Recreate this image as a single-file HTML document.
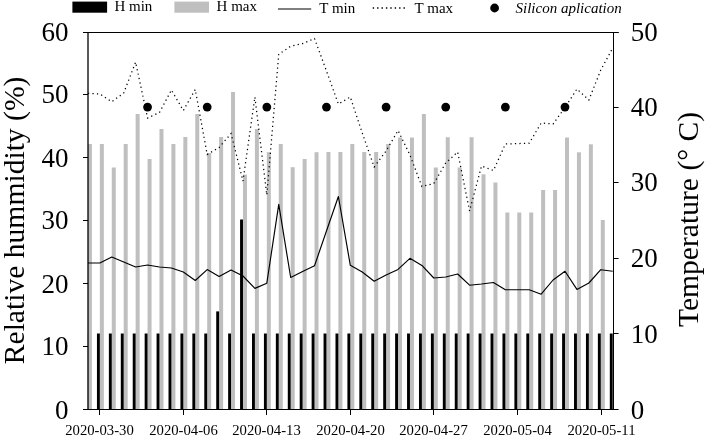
<!DOCTYPE html>
<html><head><meta charset="utf-8"><style>
html,body{margin:0;padding:0;background:#fff;}
body{width:708px;height:437px;overflow:hidden;}
svg{display:block;will-change:transform;}
text{font-family:"Liberation Serif",serif;fill:#000;}
.yl{font-size:27px;}
.xl{font-size:14.7px;}
.tt{font-size:29.6px;}
.lg{font-size:15px;}
</style></head><body>
<svg width="708" height="437" viewBox="0 0 708 437">
<clipPath id="pc"><rect x="87.92" y="32.5" width="525.58" height="377.0"/></clipPath>
<g clip-path="url(#pc)">
<rect x="87.92" y="144" width="4.0" height="265.50" fill="#bfbfbf"/>
<rect x="85.02" y="333.5" width="2.9" height="76.00" fill="#000"/>
<rect x="99.85" y="144" width="4.0" height="265.50" fill="#bfbfbf"/>
<rect x="96.95" y="333.5" width="2.9" height="76.00" fill="#000"/>
<rect x="111.77" y="167.5" width="4.0" height="242.00" fill="#bfbfbf"/>
<rect x="108.87" y="333.5" width="2.9" height="76.00" fill="#000"/>
<rect x="123.70" y="144" width="4.0" height="265.50" fill="#bfbfbf"/>
<rect x="120.80" y="333.5" width="2.9" height="76.00" fill="#000"/>
<rect x="135.63" y="114" width="4.0" height="295.50" fill="#bfbfbf"/>
<rect x="132.73" y="333.5" width="2.9" height="76.00" fill="#000"/>
<rect x="147.56" y="159" width="4.0" height="250.50" fill="#bfbfbf"/>
<rect x="144.66" y="333.5" width="2.9" height="76.00" fill="#000"/>
<rect x="159.48" y="129" width="4.0" height="280.50" fill="#bfbfbf"/>
<rect x="156.58" y="333.5" width="2.9" height="76.00" fill="#000"/>
<rect x="171.41" y="144" width="4.0" height="265.50" fill="#bfbfbf"/>
<rect x="168.51" y="333.5" width="2.9" height="76.00" fill="#000"/>
<rect x="183.34" y="137" width="4.0" height="272.50" fill="#bfbfbf"/>
<rect x="180.44" y="333.5" width="2.9" height="76.00" fill="#000"/>
<rect x="195.26" y="114" width="4.0" height="295.50" fill="#bfbfbf"/>
<rect x="192.36" y="333.5" width="2.9" height="76.00" fill="#000"/>
<rect x="207.19" y="153" width="4.0" height="256.50" fill="#bfbfbf"/>
<rect x="204.29" y="333.5" width="2.9" height="76.00" fill="#000"/>
<rect x="219.12" y="137" width="4.0" height="272.50" fill="#bfbfbf"/>
<rect x="216.22" y="311.4" width="2.9" height="98.10" fill="#000"/>
<rect x="231.04" y="92" width="4.0" height="317.50" fill="#bfbfbf"/>
<rect x="228.14" y="333.5" width="2.9" height="76.00" fill="#000"/>
<rect x="242.97" y="174.6" width="4.0" height="234.90" fill="#bfbfbf"/>
<rect x="240.07" y="219.5" width="2.9" height="190.00" fill="#000"/>
<rect x="254.90" y="129" width="4.0" height="280.50" fill="#bfbfbf"/>
<rect x="252.00" y="333.5" width="2.9" height="76.00" fill="#000"/>
<rect x="266.82" y="152.2" width="4.0" height="257.30" fill="#bfbfbf"/>
<rect x="263.93" y="333.5" width="2.9" height="76.00" fill="#000"/>
<rect x="278.75" y="144" width="4.0" height="265.50" fill="#bfbfbf"/>
<rect x="275.85" y="333.5" width="2.9" height="76.00" fill="#000"/>
<rect x="290.68" y="167.2" width="4.0" height="242.30" fill="#bfbfbf"/>
<rect x="287.78" y="333.5" width="2.9" height="76.00" fill="#000"/>
<rect x="302.61" y="159" width="4.0" height="250.50" fill="#bfbfbf"/>
<rect x="299.71" y="333.5" width="2.9" height="76.00" fill="#000"/>
<rect x="314.53" y="152.2" width="4.0" height="257.30" fill="#bfbfbf"/>
<rect x="311.63" y="333.5" width="2.9" height="76.00" fill="#000"/>
<rect x="326.46" y="152" width="4.0" height="257.50" fill="#bfbfbf"/>
<rect x="323.56" y="333.5" width="2.9" height="76.00" fill="#000"/>
<rect x="338.39" y="152" width="4.0" height="257.50" fill="#bfbfbf"/>
<rect x="335.49" y="333.5" width="2.9" height="76.00" fill="#000"/>
<rect x="350.31" y="144" width="4.0" height="265.50" fill="#bfbfbf"/>
<rect x="347.41" y="333.5" width="2.9" height="76.00" fill="#000"/>
<rect x="362.24" y="152" width="4.0" height="257.50" fill="#bfbfbf"/>
<rect x="359.34" y="333.5" width="2.9" height="76.00" fill="#000"/>
<rect x="374.17" y="152" width="4.0" height="257.50" fill="#bfbfbf"/>
<rect x="371.27" y="333.5" width="2.9" height="76.00" fill="#000"/>
<rect x="386.10" y="144" width="4.0" height="265.50" fill="#bfbfbf"/>
<rect x="383.20" y="333.5" width="2.9" height="76.00" fill="#000"/>
<rect x="398.02" y="137.5" width="4.0" height="272.00" fill="#bfbfbf"/>
<rect x="395.12" y="333.5" width="2.9" height="76.00" fill="#000"/>
<rect x="409.95" y="137.5" width="4.0" height="272.00" fill="#bfbfbf"/>
<rect x="407.05" y="333.5" width="2.9" height="76.00" fill="#000"/>
<rect x="421.88" y="114" width="4.0" height="295.50" fill="#bfbfbf"/>
<rect x="418.98" y="333.5" width="2.9" height="76.00" fill="#000"/>
<rect x="433.80" y="167.5" width="4.0" height="242.00" fill="#bfbfbf"/>
<rect x="430.90" y="333.5" width="2.9" height="76.00" fill="#000"/>
<rect x="445.73" y="137.2" width="4.0" height="272.30" fill="#bfbfbf"/>
<rect x="442.83" y="333.5" width="2.9" height="76.00" fill="#000"/>
<rect x="457.66" y="167.5" width="4.0" height="242.00" fill="#bfbfbf"/>
<rect x="454.76" y="333.5" width="2.9" height="76.00" fill="#000"/>
<rect x="469.58" y="137.2" width="4.0" height="272.30" fill="#bfbfbf"/>
<rect x="466.68" y="333.5" width="2.9" height="76.00" fill="#000"/>
<rect x="481.51" y="174.3" width="4.0" height="235.20" fill="#bfbfbf"/>
<rect x="478.61" y="333.5" width="2.9" height="76.00" fill="#000"/>
<rect x="493.44" y="182.5" width="4.0" height="227.00" fill="#bfbfbf"/>
<rect x="490.54" y="333.5" width="2.9" height="76.00" fill="#000"/>
<rect x="505.37" y="212.5" width="4.0" height="197.00" fill="#bfbfbf"/>
<rect x="502.47" y="333.5" width="2.9" height="76.00" fill="#000"/>
<rect x="517.29" y="212.5" width="4.0" height="197.00" fill="#bfbfbf"/>
<rect x="514.39" y="333.5" width="2.9" height="76.00" fill="#000"/>
<rect x="529.22" y="212.5" width="4.0" height="197.00" fill="#bfbfbf"/>
<rect x="526.32" y="333.5" width="2.9" height="76.00" fill="#000"/>
<rect x="541.15" y="190" width="4.0" height="219.50" fill="#bfbfbf"/>
<rect x="538.25" y="333.5" width="2.9" height="76.00" fill="#000"/>
<rect x="553.07" y="190" width="4.0" height="219.50" fill="#bfbfbf"/>
<rect x="550.17" y="333.5" width="2.9" height="76.00" fill="#000"/>
<rect x="565.00" y="137.5" width="4.0" height="272.00" fill="#bfbfbf"/>
<rect x="562.10" y="333.5" width="2.9" height="76.00" fill="#000"/>
<rect x="576.93" y="152.3" width="4.0" height="257.20" fill="#bfbfbf"/>
<rect x="574.03" y="333.5" width="2.9" height="76.00" fill="#000"/>
<rect x="588.85" y="144.3" width="4.0" height="265.20" fill="#bfbfbf"/>
<rect x="585.95" y="333.5" width="2.9" height="76.00" fill="#000"/>
<rect x="600.78" y="220" width="4.0" height="189.50" fill="#bfbfbf"/>
<rect x="597.88" y="333.5" width="2.9" height="76.00" fill="#000"/>
<rect x="609.81" y="333.5" width="2.9" height="76.00" fill="#000"/>
</g>
<polyline points="87.92,263 99.85,263 111.77,257 123.70,262 135.63,267 147.56,265 159.48,267 171.41,268 183.34,272 195.26,280.5 207.19,269.6 219.12,276.4 231.04,270 242.97,276 254.90,288.4 266.82,283.2 278.75,204.3 290.68,277.5 302.61,271.5 314.53,265.7 326.46,231 338.39,196.5 350.31,265.3 362.24,272 374.17,281.2 386.10,275 398.02,269.4 409.95,258.3 421.88,265.4 433.80,278 445.73,277 457.66,274 469.58,285.2 481.51,284 493.44,282.5 505.37,289.7 517.29,289.7 529.22,289.7 541.15,294.2 553.07,280 565.00,271.3 576.93,289.4 588.85,283 600.78,269.7 612.71,271.3" fill="none" stroke="#000" stroke-width="1.15" stroke-linejoin="round"/>
<polyline points="87.92,93.4 99.85,94 111.77,101.7 123.70,93 135.63,62.2 147.56,118 159.48,112.5 171.41,90 183.34,110.5 195.26,89.5 207.19,154.5 219.12,147.5 231.04,133.5 242.97,181 254.90,97 266.82,195 278.75,54.3 290.68,46.3 302.61,43.6 314.53,38.5 326.46,71 338.39,104 350.31,97 362.24,133 374.17,167 386.10,151 398.02,130.5 409.95,155 421.88,186.5 433.80,183.5 445.73,163 457.66,152 469.58,211 481.51,166 493.44,170.5 505.37,144 517.29,143.6 529.22,143.2 541.15,123 553.07,124 565.00,107.5 576.93,89 588.85,100 600.78,70 612.71,48" fill="none" stroke="#000" stroke-width="1.25" stroke-dasharray="1.25 3.25" />
<circle cx="147.56" cy="107.1" r="4.4" fill="#000"/>
<circle cx="207.19" cy="107.1" r="4.4" fill="#000"/>
<circle cx="266.82" cy="107.1" r="4.4" fill="#000"/>
<circle cx="326.46" cy="107.1" r="4.4" fill="#000"/>
<circle cx="386.10" cy="107.1" r="4.4" fill="#000"/>
<circle cx="445.73" cy="107.1" r="4.4" fill="#000"/>
<circle cx="505.37" cy="107.1" r="4.4" fill="#000"/>
<circle cx="565.00" cy="107.1" r="4.4" fill="#000"/>
<line x1="83" y1="32.5" x2="618.6" y2="32.5" stroke="#000" stroke-width="1"/>
<line x1="83" y1="409.5" x2="613.5" y2="409.5" stroke="#000" stroke-width="1"/>
<line x1="88" y1="32" x2="88" y2="410" stroke="#000" stroke-width="1.3"/>
<line x1="613.5" y1="32" x2="613.5" y2="410" stroke="#000" stroke-width="1"/>
<line x1="83" y1="409.5" x2="88" y2="409.5" stroke="#000" stroke-width="1"/>
<text x="68.6" y="418.6" text-anchor="end" class="yl">0</text>
<line x1="83" y1="346.5" x2="88" y2="346.5" stroke="#000" stroke-width="1"/>
<text x="68.6" y="354.9" text-anchor="end" class="yl">10</text>
<line x1="83" y1="283.5" x2="88" y2="283.5" stroke="#000" stroke-width="1"/>
<text x="68.6" y="292.5" text-anchor="end" class="yl">20</text>
<line x1="83" y1="220.5" x2="88" y2="220.5" stroke="#000" stroke-width="1"/>
<text x="68.6" y="229.25" text-anchor="end" class="yl">30</text>
<line x1="83" y1="157.5" x2="88" y2="157.5" stroke="#000" stroke-width="1"/>
<text x="68.6" y="166.9" text-anchor="end" class="yl">40</text>
<line x1="83" y1="94.5" x2="88" y2="94.5" stroke="#000" stroke-width="1"/>
<text x="68.6" y="103.0" text-anchor="end" class="yl">50</text>
<line x1="83" y1="32.5" x2="88" y2="32.5" stroke="#000" stroke-width="1"/>
<text x="68.6" y="40.65" text-anchor="end" class="yl">60</text>
<line x1="613" y1="409.5" x2="618.6" y2="409.5" stroke="#000" stroke-width="1"/>
<text x="630.8" y="418.6" class="yl">0</text>
<line x1="613" y1="333.5" x2="618.6" y2="333.5" stroke="#000" stroke-width="1"/>
<text x="630.8" y="343.0" class="yl">10</text>
<line x1="613" y1="258.5" x2="618.6" y2="258.5" stroke="#000" stroke-width="1"/>
<text x="630.8" y="266.7" class="yl">20</text>
<line x1="613" y1="182.5" x2="618.6" y2="182.5" stroke="#000" stroke-width="1"/>
<text x="630.8" y="191.2" class="yl">30</text>
<line x1="613" y1="107.5" x2="618.6" y2="107.5" stroke="#000" stroke-width="1"/>
<text x="630.8" y="115.9" class="yl">40</text>
<line x1="613" y1="32.5" x2="618.6" y2="32.5" stroke="#000" stroke-width="1"/>
<text x="630.8" y="40.55" class="yl">50</text>
<line x1="99.50" y1="409.5" x2="99.50" y2="415" stroke="#000" stroke-width="1"/>
<text x="99.50" y="434.8" text-anchor="middle" class="xl">2020-03-30</text>
<line x1="183.50" y1="409.5" x2="183.50" y2="415" stroke="#000" stroke-width="1"/>
<text x="183.50" y="434.8" text-anchor="middle" class="xl">2020-04-06</text>
<line x1="266.50" y1="409.5" x2="266.50" y2="415" stroke="#000" stroke-width="1"/>
<text x="266.50" y="434.8" text-anchor="middle" class="xl">2020-04-13</text>
<line x1="350.50" y1="409.5" x2="350.50" y2="415" stroke="#000" stroke-width="1"/>
<text x="350.50" y="434.8" text-anchor="middle" class="xl">2020-04-20</text>
<line x1="433.50" y1="409.5" x2="433.50" y2="415" stroke="#000" stroke-width="1"/>
<text x="433.50" y="434.8" text-anchor="middle" class="xl">2020-04-27</text>
<line x1="517.50" y1="409.5" x2="517.50" y2="415" stroke="#000" stroke-width="1"/>
<text x="517.50" y="434.8" text-anchor="middle" class="xl">2020-05-04</text>
<line x1="601.50" y1="409.5" x2="601.50" y2="415" stroke="#000" stroke-width="1"/>
<text x="601.50" y="434.8" text-anchor="middle" class="xl">2020-05-11</text>
<text transform="translate(23.8,220.4) rotate(-90)" text-anchor="middle" class="tt">Relative hummidity (%)</text>
<text transform="translate(697.5,219.5) rotate(-90)" text-anchor="middle" class="tt">Temperature (° C)</text>
<rect x="72.4" y="1.6" width="34.7" height="11.1" fill="#000"/>
<text x="114.4" y="11.4" class="lg">H min</text>
<rect x="174.4" y="1.6" width="34.6" height="11.1" fill="#bfbfbf"/>
<text x="216.6" y="11.4" class="lg">H max</text>
<line x1="278" y1="9" x2="311.2" y2="9" stroke="#000" stroke-width="1.2"/>
<text x="319.3" y="12.7" class="lg">T min</text>
<line x1="372.7" y1="8" x2="405.5" y2="8" stroke="#000" stroke-width="1.4" stroke-dasharray="1.4 3"/>
<text x="414.6" y="12.7" class="lg">T max</text>
<circle cx="494.6" cy="8" r="4.4" fill="#000"/>
<text x="515.5" y="12.7" class="lg" font-style="italic">Silicon aplication</text>
</svg>
</body></html>
